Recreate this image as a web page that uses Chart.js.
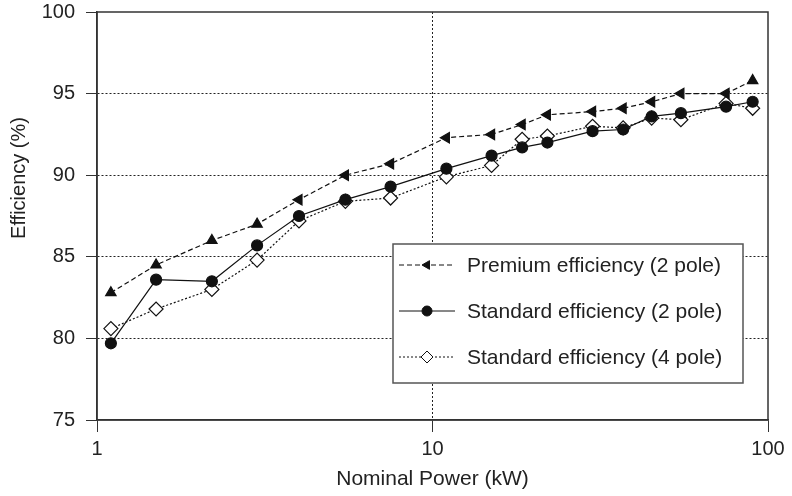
<!DOCTYPE html>
<html>
<head>
<meta charset="utf-8">
<script src="https://cdn.jsdelivr.net/npm/chart.js@4"></script>
<style>
  html, body { margin: 0; padding: 0; background: #fff; }
  #wrap { width: 792px; height: 496px; }
</style>
</head>
<body>
<div id="wrap"><canvas id="myChart"></canvas></div>
<script>
// motor ratings (kW) and efficiencies
let powerKW = [1.1, 1.5, 2.2, 3, 4, 5.5, 7.5, 11, 15, 18.5, 22, 30, 37, 45, 55, 75, 90];
let premium2Pole = [82.8, 84.5, 86.0, 87.0, 88.5, 90.0, 90.7, 92.3, 92.5, 93.1, 93.7, 93.9, 94.1, 94.5, 95.0, 95.0, 95.8];
let standard2Pole = [79.7, 83.6, 83.5, 85.7, 87.5, 88.5, 89.3, 90.4, 91.2, 91.7, 92.0, 92.7, 92.8, 93.6, 93.8, 94.2, 94.5];
let standard4Pole = [80.6, 81.8, 83.0, 84.8, 87.2, 88.4, 88.6, 89.9, 90.6, 92.2, 92.4, 93.0, 92.9, 93.5, 93.4, 94.4, 94.1];

let seriesNames = ['Premium efficiency (2 pole)', 'Standard efficiency (2 pole)', 'Standard efficiency (4 pole)'];
let xTicks = [1, 10, 100];
let yTicks = [75, 80, 85, 90, 95, 100];
let yTitle = 'Efficiency (%)';

let FONT = '"Liberation Sans", Arial, sans-serif';
let INK = '#222';

const pts = vals => powerKW.map((p, i) => ({x: p, y: vals[i]}));

// frame round the plot, y title (sits off-centre in the original) and boxed legend
const framePlugin = {
  id: 'frame',
  afterDraw(chart) {
    const {ctx, chartArea: a} = chart;
    ctx.save();
    ctx.strokeStyle = '#333';
    ctx.lineWidth = 1.5;
    ctx.strokeRect(a.left, a.top, a.right - a.left, a.bottom - a.top);

    ctx.save();
    ctx.translate(19, 178);
    ctx.rotate(-Math.PI / 2);
    ctx.fillStyle = INK;
    ctx.font = '20px ' + FONT;
    ctx.textAlign = 'center';
    ctx.textBaseline = 'middle';
    ctx.fillText(yTitle, 0, 0);
    ctx.restore();

    // legend box
    const bx = 393, by = 244, bw = 350, bh = 139;
    ctx.fillStyle = '#fff';
    ctx.fillRect(bx, by, bw, bh);
    ctx.strokeStyle = '#555';
    ctx.lineWidth = 1.5;
    ctx.strokeRect(bx, by, bw, bh);

    const rows = [265, 311, 357];
    chart.data.datasets.forEach((ds, i) => {
      const y = rows[i];
      ctx.strokeStyle = '#111';
      ctx.lineWidth = 1;
      ctx.setLineDash(ds.borderDash || []);
      ctx.beginPath();
      ctx.moveTo(399, y);
      ctx.lineTo(455, y);
      ctx.stroke();
      ctx.setLineDash([]);
      ctx.fillStyle = ds.pointBackgroundColor;
      ctx.strokeStyle = '#111';
      Chart.helpers.drawPoint(ctx, {
        pointStyle: ds.pointStyle,
        radius: ds.legendRadius,
        rotation: ds.pointStyle === 'triangle' ? -90 : 0,
        borderWidth: 1
      }, 427, y);
      ctx.fillStyle = INK;
      ctx.font = '21px ' + FONT;
      ctx.textBaseline = 'middle';
      ctx.textAlign = 'left';
      ctx.fillText(ds.label, 467, y + 1);
    });
    ctx.restore();
  }
};

let chart = new Chart(document.getElementById('myChart'), {
  type: 'line',
  data: {
    datasets: [{
      label: seriesNames[0],
      data: pts(premium2Pole),
      borderColor: '#111',
      borderWidth: 1.2,
      borderDash: [5, 3],
      pointStyle: 'triangle',
      pointRotation: c => (c.dataIndex < 4 || c.dataIndex === powerKW.length - 1) ? 0 : -90,
      pointRadius: 6,
      pointBackgroundColor: '#111',
      pointBorderColor: '#111',
      legendRadius: 5
    }, {
      label: seriesNames[1],
      data: pts(standard2Pole),
      borderColor: '#111',
      borderWidth: 1.2,
      pointStyle: 'circle',
      pointRadius: 5.5,
      pointBackgroundColor: '#111',
      pointBorderColor: '#111',
      legendRadius: 5
    }, {
      label: seriesNames[2],
      data: pts(standard4Pole),
      borderColor: '#111',
      borderWidth: 1.2,
      borderDash: [2, 2],
      pointStyle: 'rectRot',
      pointRadius: 7,
      pointBackgroundColor: '#fff',
      pointBorderColor: '#111',
      pointBorderWidth: 1.2,
      legendRadius: 6
    }]
  },
  options: {
    responsive: true,
    maintainAspectRatio: false,
    animation: false,
    layout: {padding: {top: 12, right: 24, left: 0, bottom: 0}},
    plugins: {legend: {display: false}, tooltip: {enabled: false}},
    scales: {
      x: {
        type: 'logarithmic',
        min: 1,
        max: 100,
        afterBuildTicks: s => { s.ticks = xTicks.map(v => ({value: v})); },
        afterFit: s => { s.height = 76; s.paddingLeft = 0; s.paddingRight = 0; },
        ticks: {
          color: INK,
          font: {family: FONT, size: 20},
          padding: 5,
          autoSkip: false,
          maxRotation: 0,
          callback: v => String(v)
        },
        grid: {
          color: c => (c.tick && c.tick.value === 10) ? '#222' : 'rgba(0,0,0,0)',
          tickColor: '#333',
          tickLength: 12,
          lineWidth: 1
        },
        border: {color: '#333', width: 1.5, dash: [2, 2]},
        title: {
          display: true,
          text: 'Nominal Power (kW)',
          color: INK,
          font: {family: FONT, size: 21},
          padding: {top: 0, bottom: 4}
        }
      },
      y: {
        min: 75,
        max: 100,
        afterBuildTicks: s => { s.ticks = yTicks.map(v => ({value: v})); },
        afterFit: s => { s.width = 97; s.paddingTop = 0; s.paddingBottom = 0; },
        ticks: {
          color: INK,
          font: {family: FONT, size: 20},
          padding: 11
        },
        grid: {
          color: c => (c.tick && (c.tick.value === 100 || c.tick.value === 75)) ? 'rgba(0,0,0,0)' : '#222',
          tickColor: '#333',
          tickLength: 11,
          lineWidth: 1
        },
        border: {color: '#333', width: 1.5, dash: [2, 2]}
      }
    }
  },
  plugins: [framePlugin]
});
</script>
</body>
</html>
